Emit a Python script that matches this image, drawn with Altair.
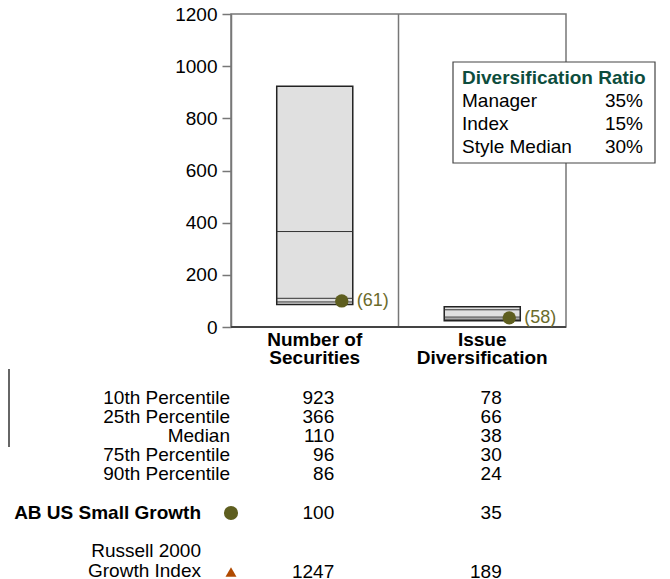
import altair as alt
import pandas as pd

# ---------------- data ----------------
metrics = ["Number of Securities", "Issue Diversification"]
header_line1 = ["Number of", "Issue"]
header_line2 = ["Securities", "Diversification"]
p10 = [923, 78]
p25 = [366, 66]
median = [110, 38]
p75 = [96, 30]
p90 = [86, 24]
manager = [100, 35]
manager_rank = [61, 58]
index_vals = [1247, 189]
pct_labels = ["10th Percentile", "25th Percentile", "Median", "75th Percentile", "90th Percentile"]
manager_name = "AB US Small Growth"
index_name_lines = ["Russell 2000", "Growth Index"]
ratio_title = "Diversification Ratio"
ratio_names = ["Manager", "Index", "Style Median"]
ratio_values = ["35%", "15%", "30%"]
y_ticks = [0, 200, 400, 600, 800, 1000, 1200]

FONT = "Liberation Sans"
FS = 19
OLIVE = "#5e5e1f"
OLIVE_TXT = "#6b6b2b"
ORANGE = "#b04a00"
FRAME = "#777777"

W, H = 335, 313

box = pd.DataFrame({
    "idx": list(range(len(metrics))),
    "metric": metrics,
    "h1": header_line1, "h2": header_line2,
    "p10": p10, "p25": p25, "median": median, "p75": p75, "p90": p90,
    "manager": manager,
    "rank": ["(%d)" % r for r in manager_rank],
})

xs = alt.Scale(domain=[0, len(metrics)], nice=False, zero=False)
ys = alt.Scale(domain=[0, 1200], nice=False, zero=True)

base = alt.Chart(box).transform_calculate(
    xc="datum.idx + 0.5", xl="datum.idx + 0.5 - 0.227", xr="datum.idx + 0.5 + 0.227"
)

bars = base.mark_rect(fill="#e0e0e0", stroke="#222222", strokeWidth=1.5).encode(
    x=alt.X("xl:Q", scale=xs, axis=None),
    x2="xr:Q",
    y=alt.Y("p10:Q", scale=ys, title=None,
            axis=alt.Axis(values=y_ticks, format="d", grid=False, labelFont=FONT, labelFontSize=FS,
                          labelColor="black", tickColor=FRAME, tickSize=9, tickWidth=1.5,
                          domainColor=FRAME, domainWidth=1.5, labelPadding=5)),
    y2="p90:Q",
)

quart_layers = []
for col in ["p25", "median", "p75"]:
    quart_layers.append(
        base.mark_rule(color="#333333", strokeWidth=1).encode(
            x=alt.X("xl:Q", scale=xs, axis=None), x2="xr:Q",
            y=alt.Y(f"{col}:Q", scale=ys),
        )
    )

divider = alt.Chart(box).transform_filter("datum.idx > 0").mark_rule(
    color=FRAME, strokeWidth=1.5).encode(x=alt.X("idx:Q", scale=xs, axis=None))

bottom = alt.Chart(box).transform_filter("datum.idx == 0").mark_rule(
    color="#444444", strokeWidth=2).encode(y=alt.datum(0))

mgr_pt = base.mark_point(filled=True, shape="circle", size=180, color=OLIVE, opacity=1,
                         xOffset=27).encode(
    x=alt.X("xc:Q", scale=xs, axis=None), y=alt.Y("manager:Q", scale=ys))

mgr_lbl = base.mark_text(align="left", baseline="middle", dx=42, font=FONT, fontSize=18,
                         color=OLIVE_TXT).encode(
    x=alt.X("xc:Q", scale=xs, axis=None), y=alt.Y("manager:Q", scale=ys), text="rank:N")

# column headers
hdr1 = base.mark_text(align="center", baseline="middle", font=FONT, fontSize=FS,
                      fontWeight="bold", color="black").encode(
    x=alt.X("xc:Q", scale=xs, axis=None), y=alt.value(H + 13), text="h1:N")
hdr2 = base.mark_text(align="center", baseline="middle", font=FONT, fontSize=FS,
                      fontWeight="bold", color="black").encode(
    x=alt.X("xc:Q", scale=xs, axis=None), y=alt.value(H + 31), text="h2:N")

# table of values
rows = []
for i in range(len(metrics)):
    for r, col in enumerate([p10, p25, median, p75, p90]):
        rows.append({"idx": i, "row": r, "val": str(col[i])})
tbl = pd.DataFrame(rows)
table_vals = alt.Chart(tbl).transform_calculate(
    xc="datum.idx + 0.5", yp="384 + datum.row * 19"
).mark_text(align="right", baseline="middle", dx=19.5, font=FONT, fontSize=FS, color="black").encode(
    x=alt.X("xc:Q", scale=xs, axis=None),
    y=alt.Y("yp:Q", scale=None, axis=None),
    text="val:N",
)

lbl_df = pd.DataFrame({"row": list(range(len(pct_labels))), "label": pct_labels})
table_lbls = alt.Chart(lbl_df).transform_calculate(yp="384 + datum.row * 19").mark_text(
    align="right", baseline="middle", font=FONT, fontSize=FS, color="black").encode(
    x=alt.value(-1), y=alt.Y("yp:Q", scale=None, axis=None), text="label:N")

mgr_vals = base.mark_text(align="right", baseline="middle", dx=19.5, font=FONT, fontSize=FS,
                          color="black").encode(
    x=alt.X("xc:Q", scale=xs, axis=None), y=alt.value(499), text="manager:Q")
idx_df = pd.DataFrame({"idx": list(range(len(metrics))), "val": index_vals})
idx_vals = alt.Chart(idx_df).transform_calculate(xc="datum.idx + 0.5").mark_text(
    align="right", baseline="middle", dx=19.5, font=FONT, fontSize=FS, color="black").encode(
    x=alt.X("xc:Q", scale=xs, axis=None), y=alt.value(558), text="val:Q")

one = pd.DataFrame({"name": [manager_name]})
mgr_name = alt.Chart(one).mark_text(align="right", baseline="middle", font=FONT, fontSize=FS,
                                    fontWeight="bold", color="black").encode(
    x=alt.value(-30), y=alt.value(499), text="name:N")
mgr_marker = alt.Chart(one).mark_point(filled=True, shape="circle", size=200, color=OLIVE,
                                       opacity=1).encode(x=alt.value(0), y=alt.value(499))
idx_df2 = pd.DataFrame({"line": index_name_lines, "k": [0, 1]})
idx_name = alt.Chart(idx_df2).transform_calculate(yp="537 + datum.k * 20").mark_text(
    align="right", baseline="middle", font=FONT, fontSize=FS, color="black").encode(
    x=alt.value(-30), y=alt.Y("yp:Q", scale=None, axis=None), text="line:N")
idx_marker = alt.Chart(one).mark_point(filled=True, shape="triangle-up", size=120, color=ORANGE,
                                       opacity=1).encode(x=alt.value(0), y=alt.value(558))

# diversification ratio box
legend_box = alt.Chart(one).mark_rect(fill="white", stroke="#444444", strokeWidth=1.2).encode(
    x=alt.value(222), x2=alt.value(424), y=alt.value(48), y2=alt.value(149))
legend_title = alt.Chart(pd.DataFrame({"t": [ratio_title]})).mark_text(
    align="left", baseline="middle", font=FONT, fontSize=FS, fontWeight="bold",
    color="#0d4d3d").encode(x=alt.value(231), y=alt.value(64), text="t:N")
rdf = pd.DataFrame({"k": list(range(len(ratio_names))), "name": ratio_names, "val": ratio_values})
legend_names = alt.Chart(rdf).transform_calculate(yp="87 + datum.k * 23").mark_text(
    align="left", baseline="middle", font=FONT, fontSize=FS, color="black").encode(
    x=alt.value(231), y=alt.Y("yp:Q", scale=None, axis=None), text="name:N")
legend_vals = alt.Chart(rdf).transform_calculate(yp="87 + datum.k * 23").mark_text(
    align="right", baseline="middle", font=FONT, fontSize=FS, color="black").encode(
    x=alt.value(412), y=alt.Y("yp:Q", scale=None, axis=None), text="val:N")

# partially visible box edge at far left
left_edge = alt.Chart(one).mark_rule(color="#333333", strokeWidth=1.5).encode(
    x=alt.value(-222), y=alt.value(355), y2=alt.value(433))

chart = alt.layer(
    bars, *quart_layers, divider, bottom, mgr_pt, mgr_lbl, hdr1, hdr2,
    table_vals, table_lbls, mgr_vals, idx_vals, mgr_name, mgr_marker, idx_name, idx_marker,
    legend_box, legend_title, legend_names, legend_vals, left_edge,
).properties(
    width=W, height=H,
    background="white",
    autosize=alt.AutoSizeParams(type="none"),
    padding={"left": 223, "top": 6, "right": 96, "bottom": 262},
).configure_view(stroke=FRAME, strokeWidth=1.5)

chart.save("out.html", embed_options={"renderer": "svg", "actions": False})
